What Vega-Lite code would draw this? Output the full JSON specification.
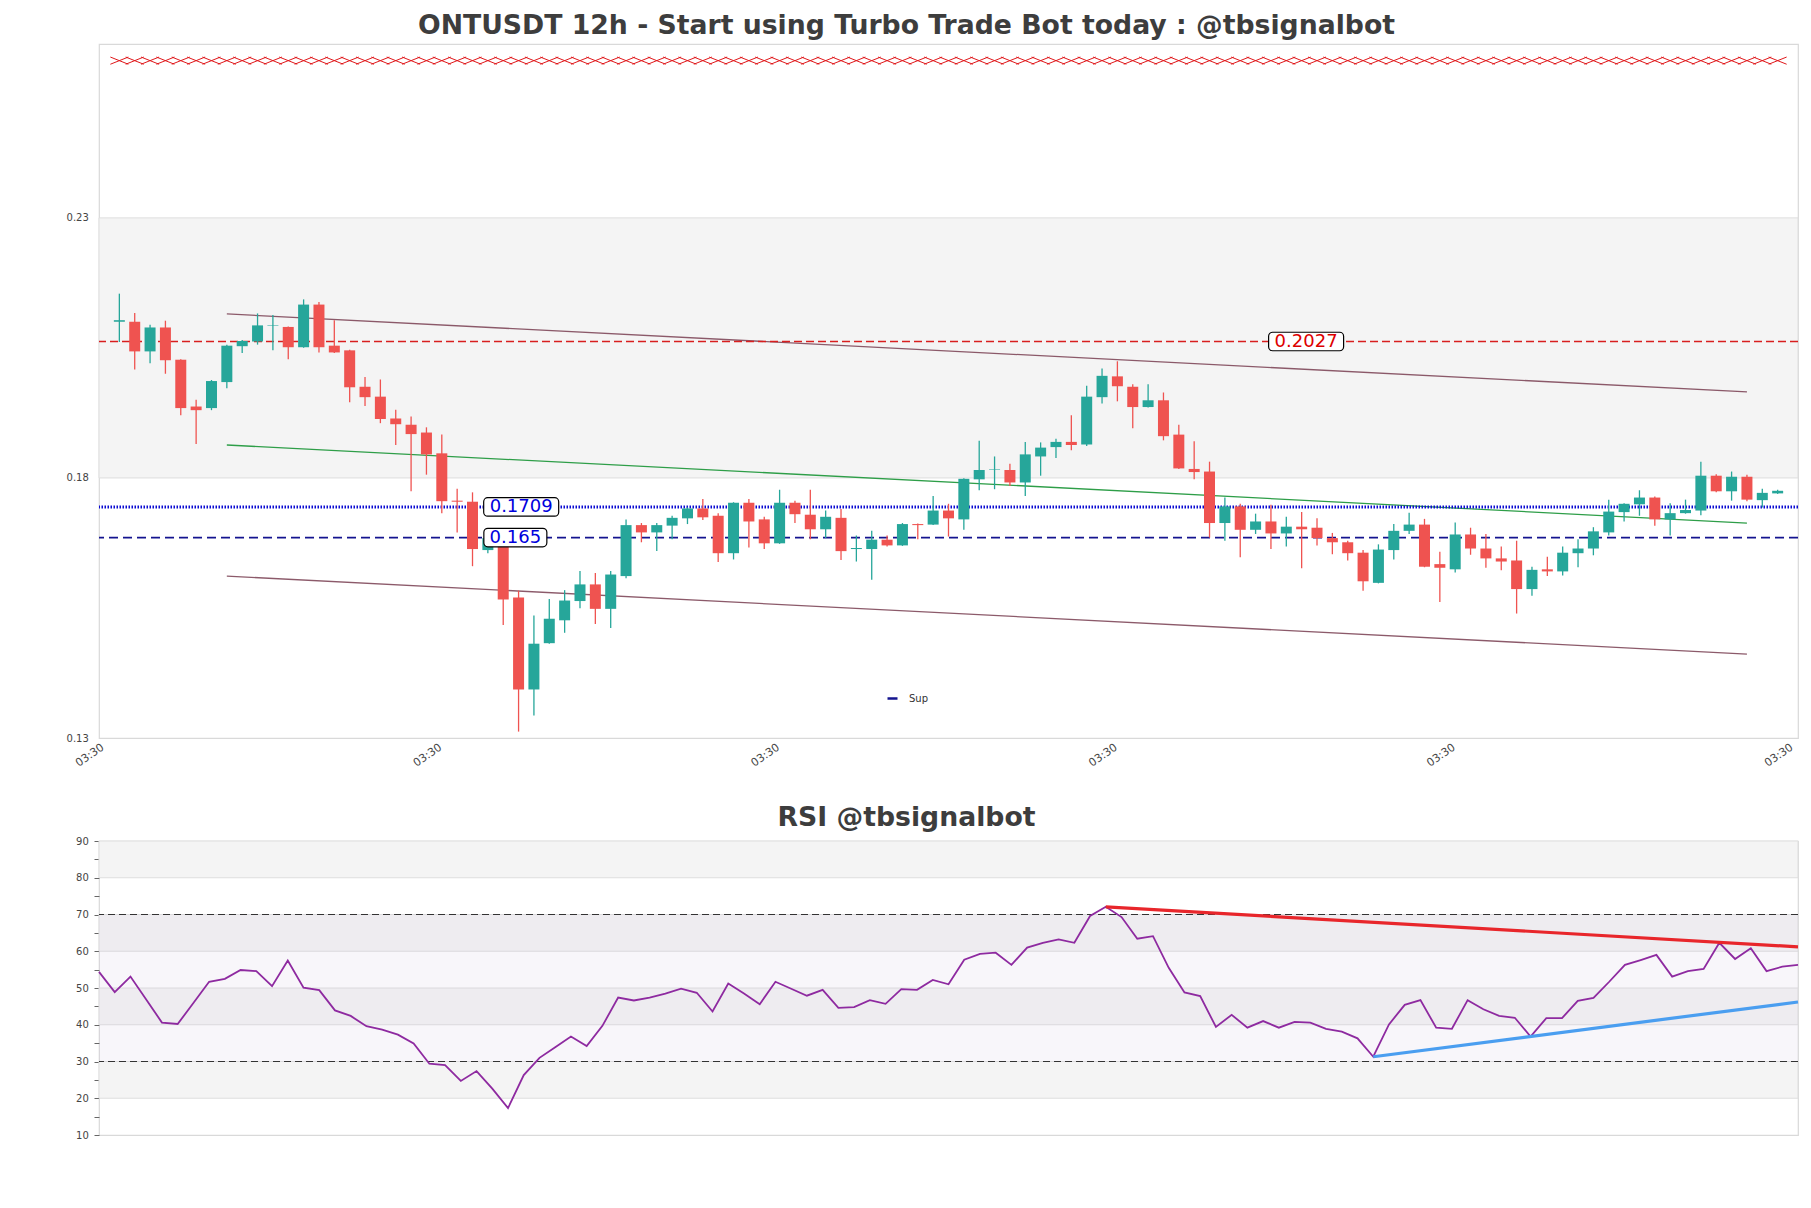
{
  "$schema": "https://vega.github.io/schema/vega-lite/v6.json",
  "background": "white",
  "padding": {"left": 65, "top": 12, "right": 14, "bottom": 74},
  "spacing": 103,
  "bounds": "flush",
  "config": {
    "font": "DejaVu Sans",
    "view": {"stroke": "#d9d9d9", "strokeWidth": 1.2},
    "axis": {"labelFont": "DejaVu Sans", "labelColor": "#444444", "domain": false, "grid": false, "title": null, "labelOverlap": false}
  },
  "datasets": {
    "candles": [
      {"i":1,"o":0.2065,"h":0.2119,"l":0.2026,"c":0.2068},
      {"i":2,"o":0.2065,"h":0.2082,"l":0.1973,"c":0.2008},
      {"i":3,"o":0.2008,"h":0.2059,"l":0.1985,"c":0.2054},
      {"i":4,"o":0.2054,"h":0.2067,"l":0.1965,"c":0.1991},
      {"i":5,"o":0.1992,"h":0.1993,"l":0.1885,"c":0.1899},
      {"i":6,"o":0.1902,"h":0.1915,"l":0.1830,"c":0.1895},
      {"i":7,"o":0.1899,"h":0.1953,"l":0.1895,"c":0.1951},
      {"i":8,"o":0.1949,"h":0.2021,"l":0.1937,"c":0.2019},
      {"i":9,"o":0.2018,"h":0.2030,"l":0.2005,"c":0.2028},
      {"i":10,"o":0.2027,"h":0.2081,"l":0.2021,"c":0.2058},
      {"i":11,"o":0.2057,"h":0.2078,"l":0.2010,"c":0.2058},
      {"i":12,"o":0.2055,"h":0.2056,"l":0.1993,"c":0.2016},
      {"i":13,"o":0.2016,"h":0.2108,"l":0.2015,"c":0.2098},
      {"i":14,"o":0.2098,"h":0.2103,"l":0.2006,"c":0.2016},
      {"i":15,"o":0.2019,"h":0.2068,"l":0.2005,"c":0.2006},
      {"i":16,"o":0.2010,"h":0.2011,"l":0.1910,"c":0.1939},
      {"i":17,"o":0.1940,"h":0.1959,"l":0.1903,"c":0.1920},
      {"i":18,"o":0.1921,"h":0.1954,"l":0.1870,"c":0.1878},
      {"i":19,"o":0.1879,"h":0.1896,"l":0.1828,"c":0.1868},
      {"i":20,"o":0.1867,"h":0.1883,"l":0.1739,"c":0.1849},
      {"i":21,"o":0.1852,"h":0.1862,"l":0.1771,"c":0.1810},
      {"i":22,"o":0.1812,"h":0.1848,"l":0.1697,"c":0.1720},
      {"i":23,"o":0.1721,"h":0.1744,"l":0.1660,"c":0.1719},
      {"i":24,"o":0.1719,"h":0.1737,"l":0.1595,"c":0.1628},
      {"i":25,"o":0.1626,"h":0.1651,"l":0.1620,"c":0.1649},
      {"i":26,"o":0.1644,"h":0.1645,"l":0.1482,"c":0.1531},
      {"i":27,"o":0.1535,"h":0.1548,"l":0.1277,"c":0.1358},
      {"i":28,"o":0.1358,"h":0.1500,"l":0.1308,"c":0.1446},
      {"i":29,"o":0.1447,"h":0.1532,"l":0.1446,"c":0.1494},
      {"i":30,"o":0.1491,"h":0.1549,"l":0.1467,"c":0.1529},
      {"i":31,"o":0.1528,"h":0.1586,"l":0.1514,"c":0.1560},
      {"i":32,"o":0.1560,"h":0.1582,"l":0.1484,"c":0.1513},
      {"i":33,"o":0.1513,"h":0.1586,"l":0.1476,"c":0.1579},
      {"i":34,"o":0.1576,"h":0.1685,"l":0.1572,"c":0.1674},
      {"i":35,"o":0.1674,"h":0.1678,"l":0.1641,"c":0.1660},
      {"i":36,"o":0.1660,"h":0.1678,"l":0.1624,"c":0.1674},
      {"i":37,"o":0.1673,"h":0.1692,"l":0.1647,"c":0.1688},
      {"i":38,"o":0.1687,"h":0.1708,"l":0.1676,"c":0.1706},
      {"i":39,"o":0.1706,"h":0.1724,"l":0.1684,"c":0.1689},
      {"i":40,"o":0.1692,"h":0.1697,"l":0.1603,"c":0.1620},
      {"i":41,"o":0.1620,"h":0.1718,"l":0.1608,"c":0.1717},
      {"i":42,"o":0.1717,"h":0.1724,"l":0.1631,"c":0.1681},
      {"i":43,"o":0.1685,"h":0.1690,"l":0.1628,"c":0.1639},
      {"i":44,"o":0.1639,"h":0.1742,"l":0.1638,"c":0.1717},
      {"i":45,"o":0.1717,"h":0.1721,"l":0.1678,"c":0.1695},
      {"i":46,"o":0.1694,"h":0.1742,"l":0.1647,"c":0.1666},
      {"i":47,"o":0.1666,"h":0.1702,"l":0.1649,"c":0.1690},
      {"i":48,"o":0.1688,"h":0.1705,"l":0.1607,"c":0.1624},
      {"i":49,"o":0.1628,"h":0.1654,"l":0.1604,"c":0.1630},
      {"i":50,"o":0.1628,"h":0.1663,"l":0.1569,"c":0.1646},
      {"i":51,"o":0.1646,"h":0.1654,"l":0.1633,"c":0.1635},
      {"i":52,"o":0.1635,"h":0.1678,"l":0.1634,"c":0.1676},
      {"i":53,"o":0.1676,"h":0.1677,"l":0.1647,"c":0.1674},
      {"i":54,"o":0.1675,"h":0.1730,"l":0.1674,"c":0.1702},
      {"i":55,"o":0.1702,"h":0.1715,"l":0.1652,"c":0.1687},
      {"i":56,"o":0.1685,"h":0.1764,"l":0.1665,"c":0.1763},
      {"i":57,"o":0.1762,"h":0.1836,"l":0.1741,"c":0.1780},
      {"i":58,"o":0.1780,"h":0.1806,"l":0.1743,"c":0.1781},
      {"i":59,"o":0.1780,"h":0.1792,"l":0.1749,"c":0.1756},
      {"i":60,"o":0.1756,"h":0.1834,"l":0.1730,"c":0.1810},
      {"i":61,"o":0.1806,"h":0.1833,"l":0.1769,"c":0.1823},
      {"i":62,"o":0.1824,"h":0.1840,"l":0.1803,"c":0.1834},
      {"i":63,"o":0.1834,"h":0.1885,"l":0.1818,"c":0.1828},
      {"i":64,"o":0.1829,"h":0.1942,"l":0.1826,"c":0.1921},
      {"i":65,"o":0.1920,"h":0.1975,"l":0.1908,"c":0.1961},
      {"i":66,"o":0.1960,"h":0.1989,"l":0.1912,"c":0.1941},
      {"i":67,"o":0.1940,"h":0.1945,"l":0.1860,"c":0.1901},
      {"i":68,"o":0.1901,"h":0.1945,"l":0.1900,"c":0.1914},
      {"i":69,"o":0.1914,"h":0.1929,"l":0.1837,"c":0.1845},
      {"i":70,"o":0.1848,"h":0.1867,"l":0.1782,"c":0.1783},
      {"i":71,"o":0.1782,"h":0.1835,"l":0.1762,"c":0.1776},
      {"i":72,"o":0.1777,"h":0.1796,"l":0.1650,"c":0.1678},
      {"i":73,"o":0.1678,"h":0.1727,"l":0.1644,"c":0.1710},
      {"i":74,"o":0.1710,"h":0.1715,"l":0.1612,"c":0.1665},
      {"i":75,"o":0.1665,"h":0.1696,"l":0.1657,"c":0.1681},
      {"i":76,"o":0.1681,"h":0.1713,"l":0.1628,"c":0.1658},
      {"i":77,"o":0.1658,"h":0.1690,"l":0.1633,"c":0.1671},
      {"i":78,"o":0.1671,"h":0.1699,"l":0.1591,"c":0.1666},
      {"i":79,"o":0.1669,"h":0.1687,"l":0.1635,"c":0.1649},
      {"i":80,"o":0.1649,"h":0.1659,"l":0.1618,"c":0.1641},
      {"i":81,"o":0.1641,"h":0.1644,"l":0.1606,"c":0.1620},
      {"i":82,"o":0.1621,"h":0.1626,"l":0.1548,"c":0.1566},
      {"i":83,"o":0.1563,"h":0.1637,"l":0.1562,"c":0.1627},
      {"i":84,"o":0.1626,"h":0.1676,"l":0.1608,"c":0.1663},
      {"i":85,"o":0.1663,"h":0.1698,"l":0.1657,"c":0.1675},
      {"i":86,"o":0.1675,"h":0.1686,"l":0.1593,"c":0.1594},
      {"i":87,"o":0.1599,"h":0.1623,"l":0.1526,"c":0.1592},
      {"i":88,"o":0.1589,"h":0.1679,"l":0.1583,"c":0.1656},
      {"i":89,"o":0.1656,"h":0.1669,"l":0.1617,"c":0.1629},
      {"i":90,"o":0.1629,"h":0.1657,"l":0.1592,"c":0.1610},
      {"i":91,"o":0.1610,"h":0.1633,"l":0.1587,"c":0.1604},
      {"i":92,"o":0.1606,"h":0.1644,"l":0.1504,"c":0.1551},
      {"i":93,"o":0.1551,"h":0.1594,"l":0.1538,"c":0.1588},
      {"i":94,"o":0.1589,"h":0.1613,"l":0.1576,"c":0.1585},
      {"i":95,"o":0.1585,"h":0.1633,"l":0.1577,"c":0.1621},
      {"i":96,"o":0.1620,"h":0.1647,"l":0.1593,"c":0.1629},
      {"i":97,"o":0.1629,"h":0.1670,"l":0.1616,"c":0.1662},
      {"i":98,"o":0.1660,"h":0.1723,"l":0.1654,"c":0.1700},
      {"i":99,"o":0.1699,"h":0.1716,"l":0.1681,"c":0.1715},
      {"i":100,"o":0.1714,"h":0.1741,"l":0.1692,"c":0.1727},
      {"i":101,"o":0.1727,"h":0.1729,"l":0.1673,"c":0.1685},
      {"i":102,"o":0.1685,"h":0.1716,"l":0.1654,"c":0.1697},
      {"i":103,"o":0.1697,"h":0.1723,"l":0.1696,"c":0.1703},
      {"i":104,"o":0.1702,"h":0.1796,"l":0.1693,"c":0.1769},
      {"i":105,"o":0.1769,"h":0.1772,"l":0.1737,"c":0.1739},
      {"i":106,"o":0.1739,"h":0.1777,"l":0.1721,"c":0.1767},
      {"i":107,"o":0.1767,"h":0.1771,"l":0.1720,"c":0.1723},
      {"i":108,"o":0.1722,"h":0.1744,"l":0.1708,"c":0.1736},
      {"i":109,"o":0.1735,"h":0.1742,"l":0.1734,"c":0.1740}
    ],
    "rsi": [
      {"j":1,"r":54.4},{"j":2,"r":48.9},{"j":3,"r":53.1},{"j":4,"r":46.9},{"j":5,"r":40.6},
      {"j":6,"r":40.2},{"j":7,"r":45.9},{"j":8,"r":51.7},{"j":9,"r":52.5},{"j":10,"r":54.9},
      {"j":11,"r":54.6},{"j":12,"r":50.5},{"j":13,"r":57.5},{"j":14,"r":50.1},{"j":15,"r":49.4},
      {"j":16,"r":43.9},{"j":17,"r":42.4},{"j":18,"r":39.6},{"j":19,"r":38.7},{"j":20,"r":37.3},
      {"j":21,"r":34.9},{"j":22,"r":29.4},{"j":23,"r":29.0},{"j":24,"r":24.7},{"j":25,"r":27.4},
      {"j":26,"r":22.6},{"j":27,"r":17.3},{"j":28,"r":26.3},{"j":29,"r":31.0},{"j":30,"r":33.9},
      {"j":31,"r":36.8},{"j":32,"r":34.2},{"j":33,"r":39.7},{"j":34,"r":47.4},{"j":35,"r":46.6},
      {"j":36,"r":47.4},{"j":37,"r":48.5},{"j":38,"r":49.8},{"j":39,"r":48.7},{"j":40,"r":43.6},
      {"j":41,"r":51.2},{"j":42,"r":48.5},{"j":43,"r":45.6},{"j":44,"r":51.7},{"j":45,"r":49.8},
      {"j":46,"r":47.9},{"j":47,"r":49.5},{"j":48,"r":44.6},{"j":49,"r":44.8},{"j":50,"r":46.7},
      {"j":51,"r":45.7},{"j":52,"r":49.7},{"j":53,"r":49.5},{"j":54,"r":52.2},{"j":55,"r":51.0},
      {"j":56,"r":57.7},{"j":57,"r":59.3},{"j":58,"r":59.6},{"j":59,"r":56.3},{"j":60,"r":61.0},
      {"j":61,"r":62.3},{"j":62,"r":63.2},{"j":63,"r":62.3},{"j":64,"r":69.6},{"j":65,"r":72.1},
      {"j":66,"r":69.3},{"j":67,"r":63.4},{"j":68,"r":64.1},{"j":69,"r":55.5},{"j":70,"r":48.8},
      {"j":71,"r":47.8},{"j":72,"r":39.4},{"j":73,"r":42.7},{"j":74,"r":39.2},{"j":75,"r":41.0},
      {"j":76,"r":39.2},{"j":77,"r":40.8},{"j":78,"r":40.6},{"j":79,"r":38.9},{"j":80,"r":38.1},
      {"j":81,"r":36.3},{"j":82,"r":31.3},{"j":83,"r":40.1},{"j":84,"r":45.4},{"j":85,"r":46.7},
      {"j":86,"r":39.2},{"j":87,"r":38.9},{"j":88,"r":46.7},{"j":89,"r":44.2},{"j":90,"r":42.4},
      {"j":91,"r":41.9},{"j":92,"r":36.8},{"j":93,"r":41.8},{"j":94,"r":41.8},{"j":95,"r":46.5},
      {"j":96,"r":47.3},{"j":97,"r":51.7},{"j":98,"r":56.3},{"j":99,"r":57.6},{"j":100,"r":59.0},
      {"j":101,"r":53.1},{"j":102,"r":54.6},{"j":103,"r":55.2},{"j":104,"r":62.3},{"j":105,"r":57.9},
      {"j":106,"r":60.8},{"j":107,"r":54.6},{"j":108,"r":55.8},{"j":109,"r":56.3}
    ]
  },
  "vconcat": [
    {
      "width": 1699,
      "height": 694,
      "title": {"text": "ONTUSDT 12h - Start using Turbo Trade Bot today : @tbsignalbot", "font": "DejaVu Sans", "fontSize": 26.7, "fontWeight": "bold", "color": "#3d3d3d", "anchor": "middle", "dx": -42, "offset": -17, "baseline": "alphabetic"},
      "layer": [
        {
          "data": {"values": [{"lo": 0.17647, "hi": 0.22647}]},
          "mark": {"type": "rect", "fill": "#f4f4f4", "stroke": "#dedede", "strokeWidth": 1},
          "encoding": {
            "y": {"field": "lo", "type": "quantitative", "scale": {"domain": [0.12647, 0.2599], "nice": false, "zero": false},
                  "axis": {"values": [0.12647, 0.17647, 0.22647], "format": ".2f", "labelFontSize": 10, "tickSize": 5, "tickColor": "transparent", "labelPadding": 5.7, "labelOverlap": false, "title": null}},
            "y2": {"field": "hi"}
          }
        },
        {
          "data": {"name": "candles"},
          "mark": {"type": "point", "shape": "M-1,-0.4L1,0.4M-1,0.4L1,-0.4", "size": 324, "filled": false, "stroke": "#e0181b", "strokeWidth": 1, "opacity": 1},
          "encoding": {
            "x": {"field": "i", "type": "quantitative", "scale": {"domain": [0, 110], "nice": false, "zero": false}, "title": null},
            "y": {"datum": 0.2567, "type": "quantitative", "scale": {"domain": [0.12647, 0.2599], "nice": false, "zero": false}, "title": null}
          }
        },
        {
          "data": {"values": [{"k": "a", "x": 8, "v": 0.2080}, {"k": "a", "x": 107, "v": 0.1930}, {"k": "b", "x": 8, "v": 0.1576}, {"k": "b", "x": 107, "v": 0.1426}]},
          "mark": {"type": "line", "stroke": "#80485a", "strokeWidth": 1.3, "opacity": 0.9},
          "encoding": {
            "x": {"field": "x", "type": "quantitative", "scale": {"domain": [0, 110], "nice": false, "zero": false}, "title": null},
            "y": {"field": "v", "type": "quantitative", "scale": {"domain": [0.12647, 0.2599], "nice": false, "zero": false}, "title": null},
            "detail": {"field": "k"}
          }
        },
        {
          "data": {"values": [{"x": 8, "v": 0.1828}, {"x": 107, "v": 0.1678}]},
          "mark": {"type": "line", "stroke": "#2e9e48", "strokeWidth": 1.3},
          "encoding": {
            "x": {"field": "x", "type": "quantitative", "scale": {"domain": [0, 110], "nice": false, "zero": false}, "title": null},
            "y": {"field": "v", "type": "quantitative", "scale": {"domain": [0.12647, 0.2599], "nice": false, "zero": false}, "title": null}
          }
        },
        {
          "data": {"values": [{"v": 0.2027}]},
          "mark": {"type": "rule", "stroke": "#d81e1e", "strokeDash": [8, 4], "strokeWidth": 1.5},
          "encoding": {"y": {"field": "v", "type": "quantitative", "scale": {"domain": [0.12647, 0.2599], "nice": false, "zero": false}, "title": null}}
        },
        {
          "data": {"values": [{"v": 0.1709}]},
          "mark": {"type": "rule", "stroke": "#0a0ad2", "strokeDash": [1.5, 1.5], "strokeWidth": 3},
          "encoding": {"y": {"field": "v", "type": "quantitative", "scale": {"domain": [0.12647, 0.2599], "nice": false, "zero": false}, "title": null}}
        },
        {
          "data": {"values": [{"v": 0.165, "name": "Sup"}]},
          "mark": {"type": "rule", "strokeDash": [9, 5], "strokeWidth": 1.6},
          "encoding": {
            "y": {"field": "v", "type": "quantitative", "scale": {"domain": [0.12647, 0.2599], "nice": false, "zero": false}, "title": null},
            "color": {"field": "name", "type": "nominal", "scale": {"domain": ["Sup"], "range": ["#14148f"]},
                      "legend": {"orient": "none", "legendX": 787, "legendY": 648, "title": null, "symbolType": "stroke", "symbolSize": 100, "symbolStrokeWidth": 2.5, "symbolDash": [1, 0], "labelFontSize": 10, "labelColor": "#333333", "labelOffset": 10, "padding": 0}}
          }
        },
        {
          "data": {"name": "candles"},
          "mark": {"type": "rule", "strokeWidth": 1.3},
          "encoding": {
            "x": {"field": "i", "type": "quantitative", "scale": {"domain": [0, 110], "nice": false, "zero": false},
                  "axis": {"values": [0, 22, 44, 66, 88, 110], "labelExpr": "'03:30'", "labelAngle": -35, "labelAlign": "right", "labelBaseline": "top", "labelFontSize": 11, "labelFlush": false, "labelOverlap": false, "ticks": false, "labelPadding": 3, "labelOffset": -5, "title": null}},
            "y": {"field": "l", "type": "quantitative", "scale": {"domain": [0.12647, 0.2599], "nice": false, "zero": false}, "title": null},
            "y2": {"field": "h"},
            "color": {"condition": {"test": "datum.c >= datum.o", "value": "#26a69a"}, "value": "#ef5350"}
          }
        },
        {
          "data": {"name": "candles"},
          "mark": {"type": "bar", "width": 11},
          "encoding": {
            "x": {"field": "i", "type": "quantitative", "scale": {"domain": [0, 110], "nice": false, "zero": false}, "title": null},
            "y": {"field": "o", "type": "quantitative", "scale": {"domain": [0.12647, 0.2599], "nice": false, "zero": false}, "title": null},
            "y2": {"field": "c"},
            "color": {"condition": {"test": "datum.c >= datum.o", "value": "#26a69a"}, "value": "#ef5350"}
          }
        },
        {
          "data": {"values": [{"x": 27.17, "v": 0.1709}, {"x": 78.29, "v": 0.2027}]},
          "mark": {"type": "point", "shape": "M-0.893,-0.247H0.893A0.107,0.107,0,0,1,1,-0.14V0.14A0.107,0.107,0,0,1,0.893,0.247H-0.893A0.107,0.107,0,0,1,-1,0.14V-0.14A0.107,0.107,0,0,1,-0.893,-0.247Z", "size": 5625, "filled": true, "fill": "white", "stroke": "black", "strokeWidth": 1.2, "opacity": 1},
          "encoding": {
            "x": {"field": "x", "type": "quantitative", "scale": {"domain": [0, 110], "nice": false, "zero": false}, "title": null},
            "y": {"field": "v", "type": "quantitative", "scale": {"domain": [0.12647, 0.2599], "nice": false, "zero": false}, "title": null}
          }
        },
        {
          "data": {"values": [{"x": 26.79, "v": 0.165}]},
          "mark": {"type": "point", "shape": "M-0.873,-0.294H0.873A0.127,0.127,0,0,1,1,-0.167V0.167A0.127,0.127,0,0,1,0.873,0.294H-0.873A0.127,0.127,0,0,1,-1,0.167V-0.167A0.127,0.127,0,0,1,-0.873,-0.294Z", "size": 3969, "filled": true, "fill": "white", "stroke": "black", "strokeWidth": 1.2, "opacity": 1},
          "encoding": {
            "x": {"field": "x", "type": "quantitative", "scale": {"domain": [0, 110], "nice": false, "zero": false}, "title": null},
            "y": {"field": "v", "type": "quantitative", "scale": {"domain": [0.12647, 0.2599], "nice": false, "zero": false}, "title": null}
          }
        },
        {
          "data": {"values": [{"x": 27.17, "v": 0.1709, "t": "0.1709"}, {"x": 26.79, "v": 0.165, "t": "0.165"}, {"x": 78.29, "v": 0.2027, "t": "0.2027"}]},
          "mark": {"type": "text", "font": "DejaVu Sans", "fontSize": 18, "align": "center", "baseline": "middle", "dy": 0},
          "encoding": {
            "x": {"field": "x", "type": "quantitative", "scale": {"domain": [0, 110], "nice": false, "zero": false}, "title": null},
            "y": {"field": "v", "type": "quantitative", "scale": {"domain": [0.12647, 0.2599], "nice": false, "zero": false}, "title": null},
            "text": {"field": "t"},
            "color": {"condition": {"test": "datum.v > 0.2", "value": "#dd0000"}, "value": "#0000dd"}
          }
        }
      ]
    },
    {
      "width": 1699,
      "height": 294,
      "title": {"text": "RSI @tbsignalbot", "font": "DejaVu Sans", "fontSize": 26.7, "fontWeight": "bold", "color": "#3d3d3d", "anchor": "middle", "dx": -42, "offset": -17, "baseline": "alphabetic"},
      "layer": [
        {
          "data": {"values": [{"a": 80, "b": 90}, {"a": 60, "b": 70}, {"a": 40, "b": 50}, {"a": 20, "b": 30}]},
          "mark": {"type": "rect", "fill": "#f4f4f4", "stroke": "#dedede", "strokeWidth": 1},
          "encoding": {
            "y": {"field": "a", "type": "quantitative", "scale": {"domain": [10, 90], "nice": false, "zero": false},
                  "axis": {"values": [10, 15, 20, 25, 30, 35, 40, 45, 50, 55, 60, 65, 70, 75, 80, 85, 90], "tickCount": 40, "labelExpr": "datum.value % 10 === 0 ? datum.label : ''", "labelFontSize": 10, "labelOverlap": false, "tickSize": 5, "tickColor": "#666666", "labelPadding": 5.7, "title": null}},
            "y2": {"field": "b"}
          }
        },
        {
          "data": {"values": [{"a": 30, "b": 70}]},
          "mark": {"type": "rect", "fill": "#c9b6d6", "opacity": 0.13},
          "encoding": {
            "y": {"field": "a", "type": "quantitative", "scale": {"domain": [10, 90], "nice": false, "zero": false}, "title": null},
            "y2": {"field": "b"}
          }
        },
        {
          "data": {"values": [{"v": 30}, {"v": 70}]},
          "mark": {"type": "rule", "stroke": "#333333", "strokeDash": [7, 4], "strokeWidth": 1.2},
          "encoding": {"y": {"field": "v", "type": "quantitative", "scale": {"domain": [10, 90], "nice": false, "zero": false}, "title": null}}
        },
        {
          "data": {"name": "rsi"},
          "mark": {"type": "line", "stroke": "#8e2aa0", "strokeWidth": 1.8},
          "encoding": {
            "x": {"field": "j", "type": "quantitative", "scale": {"domain": [1, 109], "nice": false, "zero": false}, "axis": null},
            "y": {"field": "r", "type": "quantitative", "scale": {"domain": [10, 90], "nice": false, "zero": false}, "title": null}
          }
        },
        {
          "data": {"values": [{"j": 65, "r": 72.1}, {"j": 109, "r": 61.2}]},
          "mark": {"type": "line", "stroke": "#e8262b", "strokeWidth": 3.2},
          "encoding": {
            "x": {"field": "j", "type": "quantitative", "scale": {"domain": [1, 109], "nice": false, "zero": false}, "axis": null},
            "y": {"field": "r", "type": "quantitative", "scale": {"domain": [10, 90], "nice": false, "zero": false}, "title": null}
          }
        },
        {
          "data": {"values": [{"j": 82, "r": 31.3}, {"j": 109, "r": 46.2}]},
          "mark": {"type": "line", "stroke": "#4a9ef0", "strokeWidth": 3.2},
          "encoding": {
            "x": {"field": "j", "type": "quantitative", "scale": {"domain": [1, 109], "nice": false, "zero": false}, "axis": null},
            "y": {"field": "r", "type": "quantitative", "scale": {"domain": [10, 90], "nice": false, "zero": false}, "title": null}
          }
        }
      ]
    }
  ]
}
